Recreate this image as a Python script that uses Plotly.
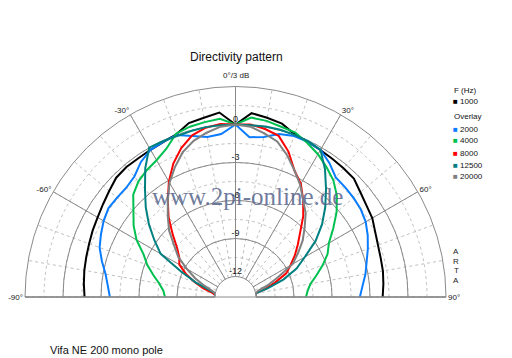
import plotly.graph_objects as go

# ---------------- data ----------------
ANGLES = list(range(-90, 95, 5))
FREQS = ["1000", "2000", "4000", "8000", "12500", "20000"]
COLORS = ["#000000", "#0a7cff", "#00c050", "#ff0000", "#008080", "#808080"]

SPL_1000 = [-1.7, -1.6, -1.5, -1.42, -1.32, -1.18, -1.05, -0.85, -0.6, -0.3, -0.22, -0.25, -0.2, -0.12,
            0.05, 0.6, 0.75, 1.0, 0.0, 0.95, 0.75, 0.55, 0.05, -0.1, -0.22, -0.3, -0.35, -0.4, -0.75,
            -1.0, -1.15, -1.45, -1.65, -1.75, -1.8, -1.9, -2.0]
SPL_2000 = [-3.7, -3.5, -3.2, -2.7, -2.2, -1.9, -1.6, -1.38, -1.42, -1.42, -1.2, -0.6, -0.2, -0.1,
            0.0, -0.45, -0.8, -0.7, 0.0, -0.95, -0.8, -0.3, -0.1, -0.1, -0.2, -0.7, -1.3, -1.37, -1.45,
            -1.55, -1.75, -2.1, -2.5, -2.9, -3.2, -3.55, -3.8]
SPL_4000 = [-8.05, -7.9, -7.5, -6.9, -6.2, -5.6, -4.6, -3.8, -3.1, -2.2, -1.7, -1.4, -1.15, -0.7,
            0.1, 0.3, 0.4, 0.5, 0.0, 0.6, 0.5, 0.3, 0.2, -0.2, -0.6, -1.1, -1.6, -2.3, -3.2,
            -4.2, -5.1, -5.6, -6.3, -7.0, -7.6, -7.9, -8.05]
SPL_8000 = [-12.0, -12.0, -11.8, -11.0, -10.2, -9.3, -8.5, -8.2, -7.6, -6.6, -5.4, -4.3, -3.1, -2.0,
            -1.1, -0.4, -0.05, 0.1, 0.0, 0.05, -0.15, -0.45, -1.4, -2.6, -3.3, -4.3, -5.3, -6.4, -7.2,
            -7.9, -8.6, -9.2, -10.3, -11.2, -12.0, -12.0, -12.0]
SPL_12500 = [-12.0, -12.0, -12.0, -11.5, -10.3, -8.9, -6.8, -5.8, -4.7, -3.6, -2.5, -1.2, 0.0, -0.05,
             -0.1, -0.05, 0.0, 0.0, 0.0, 0.0, 0.05, 0.05, 0.0, -0.05, -0.2, -1.3, -2.5, -3.6, -4.7,
             -5.9, -7.3, -8.3, -9.6, -11.0, -12.0, -12.0, -12.0]
SPL_20000 = [-12.0, -12.0, -12.0, -11.7, -11.0, -10.1, -9.2, -8.1, -7.3, -6.2, -5.3, -4.3, -3.2, -2.3,
             -1.45, -0.85, -0.45, -0.12, 0.0, -0.12, -0.5, -0.9, -1.7, -2.6, -3.4, -4.3, -5.0, -5.9, -6.7,
             -7.6, -8.4, -9.9, -10.9, -11.8, -12.0, -12.0, -12.0]
SERIES = [SPL_1000, SPL_2000, SPL_4000, SPL_8000, SPL_12500, SPL_20000]

R_MIN, R_MAX = -12, 3
RADIAL_MAJOR = [-12, -9, -6, -3, 0, 3]
RADIAL_MINOR = [-12 + 1.5 * i for i in range(11)]
RADIAL_LABEL_VALS = [0, -3, -6, -9, -12]
RADIAL_LABELS = ["0", "-3", "-6", "-9", "-12"]
ANGLE_MAJOR = [-90, -60, -30, 0, 30, 60, 90]
ANGLE_MAJOR_TEXT = ["-90°", "-60°", "-30°", "", "30°", "60°", "90°"]
TOP_LABEL = "0°/3 dB"
ANGLE_MINOR = list(range(-90, 100, 10))

TITLE = "Directivity pattern"
FOOTER = "Vifa NE 200 mono pole"
WATERMARK = "www.2pi-online.de"
SIDE_TEXT = ["A", "R", "T", "A"]

# ---------------- figure ----------------
W, H = 512, 358
CX, CY, RAD = 235.5, 297.0, 210.5
HOLE = 20.5 / RAD
dom_x = [(CX - RAD) / W, (CX + RAD) / W]
dom_y = [(H - CY) / H, (H - CY + RAD) / H]

fig = go.Figure()
# invisible trace so that the minor-grid polar subplot is drawn
fig.add_trace(go.Scatterpolar(r=[R_MIN], theta=[0], mode="markers", marker=dict(opacity=0),
                              subplot="polar", hoverinfo="skip", showlegend=False))
for name, col, vals in zip(FREQS, COLORS, SERIES):
    fig.add_trace(go.Scatterpolar(r=vals, theta=ANGLES, mode="lines", name=name,
                                  line=dict(color=col, width=2), subplot="polar2",
                                  showlegend=False))

fig.add_trace(go.Scatterpolar(r=RADIAL_LABEL_VALS, theta=[0] * len(RADIAL_LABEL_VALS),
                              mode="text", text=RADIAL_LABELS, textposition="top center",
                              textfont=dict(size=9, color="#222", family="Liberation Sans"),
                              subplot="polar2", showlegend=False, cliponaxis=False))

font = "Liberation Sans, Arial, sans-serif"
common = dict(domain=dict(x=dom_x, y=dom_y), sector=[0, 180], hole=HOLE)
fig.update_layout(
    width=W, height=H, margin=dict(l=0, r=0, t=0, b=0),
    paper_bgcolor="white", plot_bgcolor="white", showlegend=False,
    font=dict(family=font, size=9, color="#222"),
    polar=dict(
        **common, bgcolor="white",
        angularaxis=dict(rotation=90, direction="clockwise", tickmode="array",
                         tickvals=ANGLE_MINOR, showticklabels=False, ticks="",
                         showgrid=True, gridcolor="#c0c0c0", griddash="3px,3px",
                         gridwidth=1, showline=False),
        radialaxis=dict(range=[R_MIN, R_MAX], tickmode="array", tickvals=RADIAL_MINOR,
                        showticklabels=False, ticks="", showline=False,
                        showgrid=True, gridcolor="#c0c0c0", griddash="3px,3px", gridwidth=1),
    ),
    polar2=dict(
        **common, bgcolor="rgba(0,0,0,0)",
        angularaxis=dict(rotation=90, direction="clockwise", tickmode="array",
                         tickvals=ANGLE_MAJOR, ticktext=ANGLE_MAJOR_TEXT, ticks="",
                         tickfont=dict(size=8, color="#222", family=font),
                         showgrid=True, gridcolor="#8a8a8a", gridwidth=1,
                         showline=True, linecolor="#8a8a8a", linewidth=1),
        radialaxis=dict(range=[R_MIN, R_MAX], tickmode="array", tickvals=RADIAL_MAJOR,
                        showticklabels=False, ticks="", showline=False,
                        showgrid=True, gridcolor="#8a8a8a", gridwidth=1),
    ),
    # 90°/-90° base line continues under the centre hole
    shapes=[dict(type="line", xref="paper", yref="paper", x0=dom_x[0], x1=dom_x[1],
                 y0=dom_y[0], y1=dom_y[0], line=dict(color="#8a8a8a", width=1))],
)


def paper_text(text, px, py, size, anchor="center", color="#111", family=font):
    return dict(text=text, x=px / W, y=1 - py / H, xref="paper", yref="paper",
                xanchor=anchor, yanchor="middle", showarrow=False,
                font=dict(size=size, color=color, family=family))


ann = [
    paper_text(TITLE, 236, 57, 12),
    paper_text(TOP_LABEL, CX, CY - RAD - 11, 8, color="#222"),
    paper_text(FOOTER, 48, 350, 11, anchor="left"),
    paper_text(WATERMARK, 247, 196, 25, color="rgba(85,100,140,0.85)",
               family="Liberation Serif, DejaVu Serif, serif"),
    paper_text("F (Hz)", 452, 90, 8, anchor="left"),
    paper_text("Overlay", 452, 116, 8, anchor="left"),
]
for ch, sy in zip(SIDE_TEXT, [251, 261, 270, 280]):
    ann.append(paper_text(ch, 456, sy, 8, color="#222"))
legend_y = [102, 129, 141, 153, 165, 177]
for name, col, ly in zip(FREQS, COLORS, legend_y):
    ann.append(paper_text(f"<span style='color:{col}'>■</span> {name}", 451, ly, 8, anchor="left"))
fig.update_layout(annotations=ann)

fig.write_html("out.html", config={"displayModeBar": False},
               post_script="document.body.style.margin='0';document.body.style.overflow='hidden';")
